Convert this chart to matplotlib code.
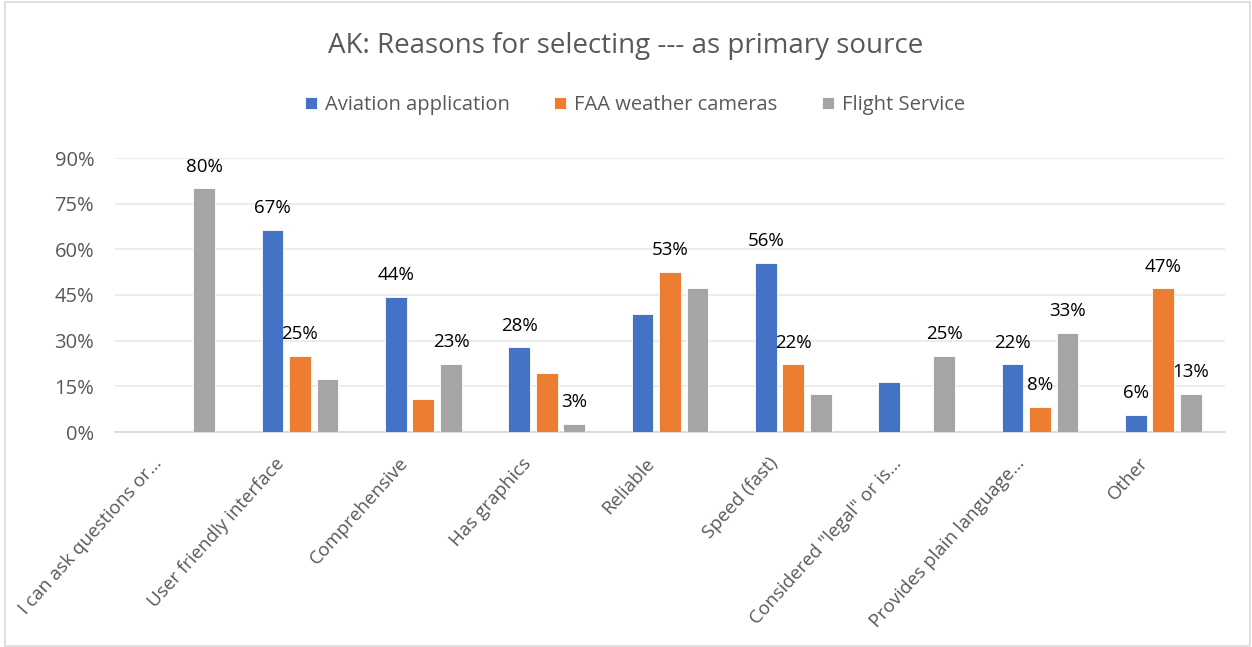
import matplotlib
matplotlib.use("Agg")
import matplotlib.pyplot as plt
import matplotlib.transforms as mtransforms
import numpy as np
from matplotlib.patches import Rectangle

categories = ["I can ask questions or…", "User friendly interface", "Comprehensive",
              "Has graphics", "Reliable", "Speed (fast)", "Considered \"legal\" or is…",
              "Provides plain language…", "Other"]
series_names = ["Aviation application", "FAA weather cameras", "Flight Service"]
aviation = [0, 66.5, 44.4, 27.8, 38.8, 55.6, 16.5, 22.2, 5.6]
faa = [0, 25.0, 10.8, 19.3, 52.6, 22.2, 0, 8.3, 47.2]
flight = [80.0, 17.4, 22.5, 2.6, 47.4, 12.4, 25.0, 32.5, 12.5]
labels_aviation = ["", "67%", "44%", "28%", "", "56%", "", "22%", "6%"]
labels_faa = ["", "25%", "", "", "53%", "22%", "", "8%", "47%"]
labels_flight = ["80%", "", "23%", "3%", "", "", "25%", "33%", "13%"]
yticks = [0, 15, 30, 45, 60, 75, 90]

colors = ["#4472C4", "#ED7D31", "#A5A5A5"]
plt.rcParams['font.family'] = ['Open Sans', 'DejaVu Sans']

fig = plt.figure(figsize=(12.52, 6.47), dpi=100)
ax = fig.add_axes([115/1252, 1-432/647, (1225-115)/1252, (432-158)/647])

x = np.arange(len(categories))
w = 0.176
step = 0.224
for i, (vals, labs) in enumerate(zip([aviation, faa, flight],
                                     [labels_aviation, labels_faa, labels_flight])):
    pos = x + (i - 1) * step
    bars = ax.bar(pos, vals, width=w, color=colors[i], label=series_names[i],
                  edgecolor="white", linewidth=0.6, zorder=3)
    for b, v, t in zip(bars, vals, labs):
        if t:
            ax.annotate(t, (b.get_x() + b.get_width() / 2, v), xytext=(0, 12),
                        textcoords="offset points", ha="center", va="baseline",
                        fontsize=13.5, color="#000000")

ax.set_xlim(-0.5, len(categories) - 0.5)
ax.set_ylim(0, 90)
ax.set_yticks(yticks)
ax.set_yticklabels([f"{t}%" for t in yticks], fontsize=14.5, color="#595959")
ax.yaxis.grid(True, color="#EBEBEB", linewidth=1.3, zorder=0)
ax.set_axisbelow(True)
ax.tick_params(axis="y", length=0, pad=15)
ax.tick_params(axis="x", length=0, pad=16)
ax.set_xticks(x)
ax.set_xticklabels(categories, rotation=48, ha="right", rotation_mode="anchor",
                   fontsize=13.5, color="#595959")
shift = mtransforms.ScaledTranslation(-25/100, 0, fig.dpi_scale_trans)
for lab in ax.get_xticklabels():
    lab.set_transform(lab.get_transform() + shift)
for s in ["top", "right", "left"]:
    ax.spines[s].set_visible(False)
ax.spines["bottom"].set_color("#D9D9D9")
ax.spines["bottom"].set_linewidth(1.3)

fig.text(0.5, 1 - 46/647, "AK: Reasons for selecting --- as primary source",
         ha="center", va="center", fontsize=20, color="#595959")
leg = fig.legend(loc="center", bbox_to_anchor=(0.507, 1 - 105/647), ncol=3, frameon=False,
                 fontsize=14.5, handlelength=0.6, handleheight=0.6, handletextpad=0.4,
                 columnspacing=2.2)
for t in leg.get_texts():
    t.set_color("#595959")

fig.patches.append(Rectangle((5/1252, 1/647), 1245/1252, 644/647, transform=fig.transFigure,
                             fill=False, edgecolor="#D9D9D9", linewidth=1.2))

fig.savefig("out.png", dpi=100)
